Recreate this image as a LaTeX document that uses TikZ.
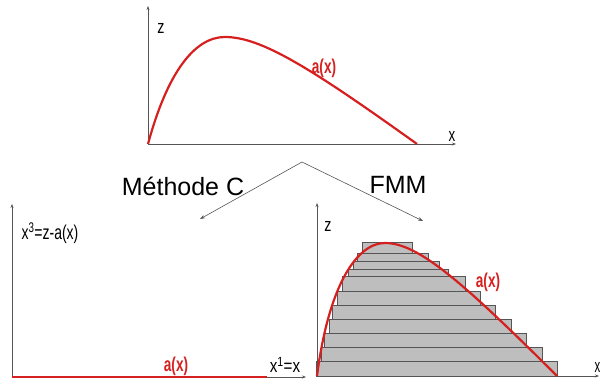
\documentclass[tikz,border=0pt]{standalone}
\usepackage{fontspec}
\setmainfont{Liberation Sans}
\usetikzlibrary{arrows.meta}
\definecolor{curvered}{RGB}{214,32,32}
\definecolor{axisgray}{RGB}{85,85,85}
\definecolor{barfill}{RGB}{190,190,190}
% condensed look of the axis labels
\newcommand{\narrowtxt}[2][0.75]{\scalebox{#1}[1]{#2}}

\begin{document}
\begin{tikzpicture}[x=1pt,y=-1pt,
    axis/.style={axisgray, line width=0.8pt, -{Stealth[length=4pt,width=3pt]}},
    acurve/.style={curvered, line width=2.2pt, line join=round},
    bar/.style={fill=barfill, draw=axisgray, line width=0.7pt},
    lbl/.style={inner sep=0pt, font=\fontsize{19}{19}\selectfont},
    rlbl/.style={lbl, curvered, font=\fontsize{20}{20}\selectfont\bfseries},
    title/.style={inner sep=0pt, font=\fontsize{25}{25}\selectfont}]
  \useasboundingbox (0,0) rectangle (601,385);

  % ---- top panel: original profile
  \draw[axis] (148,144) -- (148,6);
  \draw[axis] (148,144) -- (456,144);
  \node[lbl] (ztop) at (161,28) {\narrowtxt{z}};
  \node[lbl] (xtop) at (452,136) {\narrowtxt[0.7]{x}};
  \begin{scope}[shift={(148,144)}, xscale=269, yscale=-107]
    \draw[acurve] (0,0) .. controls (0.07,0.65) and (0.17,1) .. (0.286,1)
      .. controls (0.42,1) and (0.6,0.72) .. (1,0);
  \end{scope}
  \node[rlbl] (atop) at (324,68) {\narrowtxt[0.68]{a(x)}};

  % ---- the two routes
  \coordinate (split) at (302,162);
  \coordinate (tipC) at (200,219);
  \coordinate (tipF) at (423,221);
  \draw[axisgray, line width=0.6pt, -{Stealth[length=5pt,width=3.5pt]}] (split) -- (tipC);
  \draw[axisgray, line width=0.6pt, -{Stealth[length=5pt,width=3.5pt]}] (split) -- (tipF);
  \node[title] (methC) at (183,186) {Méthode C};
  \node[title] (fmm) at (398,185) {FMM};

  % ---- bottom left: flattened coordinates
  \draw[axis] (12,377) -- (12,204);
  \draw[axis] (12,377) -- (306,377);
  \draw[curvered, line width=2.6pt] (12,377) -- (267,377);
  \node[lbl, font=\fontsize{20}{20}\selectfont] (xthree) at (50,233) {\narrowtxt[0.7]{x\textsuperscript{3}=z-a(x)}};
  \node[lbl] (xone) at (285,365) {\narrowtxt[0.8]{x\textsuperscript{1}=x}};
  \node[rlbl] (aleft) at (176,366) {\narrowtxt[0.68]{a(x)}};

  % ---- bottom right: staircase of layers
  \foreach \top/\bot/\xl/\xr in {242.7/253.3/362.7/412.3, 253.3/261.7/357.3/428,
      261.7/269.3/353/439.3, 269.3/276.7/348/448.3, 276.7/291/342/465,
      291/305/337/480.7, 305/319.3/332.5/495.7, 319.3/333.3/329/511.7,
      333.3/347.3/324.7/526.7, 347.3/361.7/321/542.3, 361.7/376/316/557.7}
    \draw[bar] (\xl,\top) rectangle (\xr,\bot);
  \draw[axis] (317,376) -- (317,203);
  \draw[axis] (317,376) -- (599,376);
  \node[lbl] (zright) at (328,226) {\narrowtxt{z}};
  \node[lbl, anchor=east] (xright) at (600.5,367) {\narrowtxt[0.6]{x}};
  \begin{scope}[shift={(317,376)}, xscale=240, yscale=-133]
    \draw[acurve] (0,0) .. controls (0.05,0.7) and (0.17,1) .. (0.283,1)
      .. controls (0.42,1) and (0.6,0.72) .. (1,0);
  \end{scope}
  \node[rlbl] (aright) at (488,282) {\narrowtxt[0.68]{a(x)}};
\end{tikzpicture}
\end{document}
